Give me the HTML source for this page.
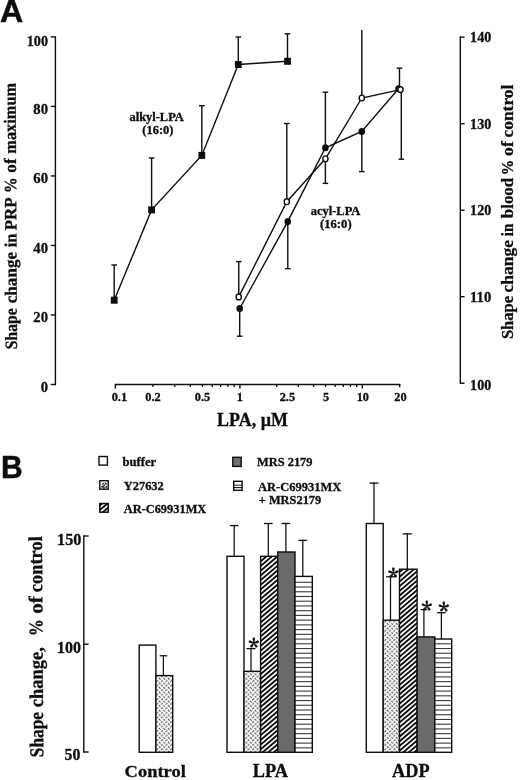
<!DOCTYPE html>
<html><head><meta charset="utf-8"><title>Figure</title>
<style>html,body{margin:0;padding:0;background:#fff;}svg{display:block;filter:grayscale(1) blur(0.25px);}</style>
</head><body>
<svg width="520" height="780" viewBox="0 0 520 780">
<rect width="520" height="780" fill="#fff"/>
<defs>
<pattern id="pd" width="4.56" height="4.56" patternUnits="userSpaceOnUse" patternTransform="translate(1.2 0.4)">
<rect width="4.56" height="4.56" fill="#fff"/>
<path d="M0.25 2.0 L2.0 0.35 M2.53 2.63 L4.28 4.28" stroke="#333" stroke-width="1.05"/>
</pattern>
</defs>
<text x="-0.1" y="22.45" font-family="'Liberation Sans',Arial,sans-serif" font-size="32.1" font-weight="bold" fill="#0d0d0d" stroke="#0d0d0d" stroke-width="0.5">A</text>
<line x1="55.40" y1="36.20" x2="55.40" y2="385.20" stroke="#0d0d0d" stroke-width="1.4" stroke-linecap="butt"/>
<line x1="50.80" y1="384.50" x2="55.40" y2="384.50" stroke="#0d0d0d" stroke-width="1.4" stroke-linecap="butt"/>
<text x="48.00" y="392.00" font-family="'Liberation Serif','Times New Roman',serif" font-size="15" font-weight="bold" text-anchor="end" fill="#0d0d0d" stroke="#0d0d0d" stroke-width="0.3" textLength="7.30" lengthAdjust="spacingAndGlyphs">0</text>
<line x1="50.80" y1="314.98" x2="55.40" y2="314.98" stroke="#0d0d0d" stroke-width="1.4" stroke-linecap="butt"/>
<text x="48.00" y="322.48" font-family="'Liberation Serif','Times New Roman',serif" font-size="15" font-weight="bold" text-anchor="end" fill="#0d0d0d" stroke="#0d0d0d" stroke-width="0.3" textLength="14.70" lengthAdjust="spacingAndGlyphs">20</text>
<line x1="50.80" y1="245.46" x2="55.40" y2="245.46" stroke="#0d0d0d" stroke-width="1.4" stroke-linecap="butt"/>
<text x="48.00" y="252.96" font-family="'Liberation Serif','Times New Roman',serif" font-size="15" font-weight="bold" text-anchor="end" fill="#0d0d0d" stroke="#0d0d0d" stroke-width="0.3" textLength="14.70" lengthAdjust="spacingAndGlyphs">40</text>
<line x1="50.80" y1="175.94" x2="55.40" y2="175.94" stroke="#0d0d0d" stroke-width="1.4" stroke-linecap="butt"/>
<text x="48.00" y="183.44" font-family="'Liberation Serif','Times New Roman',serif" font-size="15" font-weight="bold" text-anchor="end" fill="#0d0d0d" stroke="#0d0d0d" stroke-width="0.3" textLength="14.70" lengthAdjust="spacingAndGlyphs">60</text>
<line x1="50.80" y1="106.42" x2="55.40" y2="106.42" stroke="#0d0d0d" stroke-width="1.4" stroke-linecap="butt"/>
<text x="48.00" y="113.92" font-family="'Liberation Serif','Times New Roman',serif" font-size="15" font-weight="bold" text-anchor="end" fill="#0d0d0d" stroke="#0d0d0d" stroke-width="0.3" textLength="14.70" lengthAdjust="spacingAndGlyphs">80</text>
<line x1="50.80" y1="36.90" x2="55.40" y2="36.90" stroke="#0d0d0d" stroke-width="1.4" stroke-linecap="butt"/>
<text x="48.00" y="45.70" font-family="'Liberation Serif','Times New Roman',serif" font-size="15" font-weight="bold" text-anchor="end" fill="#0d0d0d" stroke="#0d0d0d" stroke-width="0.3" textLength="21.30" lengthAdjust="spacingAndGlyphs">100</text>
<line x1="460.30" y1="36.30" x2="460.30" y2="383.90" stroke="#0d0d0d" stroke-width="1.4" stroke-linecap="butt"/>
<line x1="460.30" y1="383.20" x2="464.60" y2="383.20" stroke="#0d0d0d" stroke-width="1.4" stroke-linecap="butt"/>
<text x="470.10" y="389.60" font-family="'Liberation Serif','Times New Roman',serif" font-size="15" font-weight="bold" text-anchor="start" fill="#0d0d0d" stroke="#0d0d0d" stroke-width="0.3" textLength="21.20" lengthAdjust="spacingAndGlyphs">100</text>
<line x1="460.30" y1="296.70" x2="464.60" y2="296.70" stroke="#0d0d0d" stroke-width="1.4" stroke-linecap="butt"/>
<text x="470.10" y="301.80" font-family="'Liberation Serif','Times New Roman',serif" font-size="15" font-weight="bold" text-anchor="start" fill="#0d0d0d" stroke="#0d0d0d" stroke-width="0.3" textLength="21.20" lengthAdjust="spacingAndGlyphs">110</text>
<line x1="460.30" y1="210.20" x2="464.60" y2="210.20" stroke="#0d0d0d" stroke-width="1.4" stroke-linecap="butt"/>
<text x="470.10" y="215.30" font-family="'Liberation Serif','Times New Roman',serif" font-size="15" font-weight="bold" text-anchor="start" fill="#0d0d0d" stroke="#0d0d0d" stroke-width="0.3" textLength="21.20" lengthAdjust="spacingAndGlyphs">120</text>
<line x1="460.30" y1="123.70" x2="464.60" y2="123.70" stroke="#0d0d0d" stroke-width="1.4" stroke-linecap="butt"/>
<text x="470.10" y="128.80" font-family="'Liberation Serif','Times New Roman',serif" font-size="15" font-weight="bold" text-anchor="start" fill="#0d0d0d" stroke="#0d0d0d" stroke-width="0.3" textLength="21.20" lengthAdjust="spacingAndGlyphs">130</text>
<line x1="460.30" y1="37.20" x2="464.60" y2="37.20" stroke="#0d0d0d" stroke-width="1.4" stroke-linecap="butt"/>
<text x="470.10" y="42.30" font-family="'Liberation Serif','Times New Roman',serif" font-size="15" font-weight="bold" text-anchor="start" fill="#0d0d0d" stroke="#0d0d0d" stroke-width="0.3" textLength="21.20" lengthAdjust="spacingAndGlyphs">140</text>
<line x1="114.70" y1="384.50" x2="400.40" y2="384.50" stroke="#0d0d0d" stroke-width="1.4" stroke-linecap="butt"/>
<line x1="115.40" y1="384.50" x2="115.40" y2="388.60" stroke="#0d0d0d" stroke-width="1.4" stroke-linecap="butt"/>
<line x1="239.90" y1="384.50" x2="239.90" y2="388.60" stroke="#0d0d0d" stroke-width="1.4" stroke-linecap="butt"/>
<line x1="362.30" y1="384.50" x2="362.30" y2="388.60" stroke="#0d0d0d" stroke-width="1.4" stroke-linecap="butt"/>
<line x1="399.70" y1="384.50" x2="399.70" y2="387.30" stroke="#0d0d0d" stroke-width="1.4" stroke-linecap="butt"/>
<line x1="152.88" y1="384.50" x2="152.88" y2="386.90" stroke="#0d0d0d" stroke-width="1.3" stroke-linecap="butt"/>
<line x1="174.80" y1="384.50" x2="174.80" y2="386.90" stroke="#0d0d0d" stroke-width="1.3" stroke-linecap="butt"/>
<line x1="190.36" y1="384.50" x2="190.36" y2="386.90" stroke="#0d0d0d" stroke-width="1.3" stroke-linecap="butt"/>
<line x1="202.42" y1="384.50" x2="202.42" y2="386.90" stroke="#0d0d0d" stroke-width="1.3" stroke-linecap="butt"/>
<line x1="212.28" y1="384.50" x2="212.28" y2="386.90" stroke="#0d0d0d" stroke-width="1.3" stroke-linecap="butt"/>
<line x1="220.61" y1="384.50" x2="220.61" y2="386.90" stroke="#0d0d0d" stroke-width="1.3" stroke-linecap="butt"/>
<line x1="227.83" y1="384.50" x2="227.83" y2="386.90" stroke="#0d0d0d" stroke-width="1.3" stroke-linecap="butt"/>
<line x1="234.20" y1="384.50" x2="234.20" y2="386.90" stroke="#0d0d0d" stroke-width="1.3" stroke-linecap="butt"/>
<line x1="276.75" y1="384.50" x2="276.75" y2="386.90" stroke="#0d0d0d" stroke-width="1.3" stroke-linecap="butt"/>
<line x1="298.30" y1="384.50" x2="298.30" y2="386.90" stroke="#0d0d0d" stroke-width="1.3" stroke-linecap="butt"/>
<line x1="313.59" y1="384.50" x2="313.59" y2="386.90" stroke="#0d0d0d" stroke-width="1.3" stroke-linecap="butt"/>
<line x1="325.45" y1="384.50" x2="325.45" y2="386.90" stroke="#0d0d0d" stroke-width="1.3" stroke-linecap="butt"/>
<line x1="335.15" y1="384.50" x2="335.15" y2="386.90" stroke="#0d0d0d" stroke-width="1.3" stroke-linecap="butt"/>
<line x1="343.34" y1="384.50" x2="343.34" y2="386.90" stroke="#0d0d0d" stroke-width="1.3" stroke-linecap="butt"/>
<line x1="350.44" y1="384.50" x2="350.44" y2="386.90" stroke="#0d0d0d" stroke-width="1.3" stroke-linecap="butt"/>
<line x1="356.70" y1="384.50" x2="356.70" y2="386.90" stroke="#0d0d0d" stroke-width="1.3" stroke-linecap="butt"/>
<text x="119.40" y="401.20" font-family="'Liberation Serif','Times New Roman',serif" font-size="12.3" font-weight="bold" text-anchor="middle" fill="#0d0d0d" stroke="#0d0d0d" stroke-width="0.3">0.1</text>
<text x="153.00" y="400.70" font-family="'Liberation Serif','Times New Roman',serif" font-size="12.3" font-weight="bold" text-anchor="middle" fill="#0d0d0d" stroke="#0d0d0d" stroke-width="0.3">0.2</text>
<text x="202.50" y="400.70" font-family="'Liberation Serif','Times New Roman',serif" font-size="12.3" font-weight="bold" text-anchor="middle" fill="#0d0d0d" stroke="#0d0d0d" stroke-width="0.3">0.5</text>
<text x="239.90" y="400.70" font-family="'Liberation Serif','Times New Roman',serif" font-size="12.3" font-weight="bold" text-anchor="middle" fill="#0d0d0d" stroke="#0d0d0d" stroke-width="0.3">1</text>
<text x="287.40" y="400.70" font-family="'Liberation Serif','Times New Roman',serif" font-size="12.3" font-weight="bold" text-anchor="middle" fill="#0d0d0d" stroke="#0d0d0d" stroke-width="0.3">2.5</text>
<text x="326.00" y="400.70" font-family="'Liberation Serif','Times New Roman',serif" font-size="12.3" font-weight="bold" text-anchor="middle" fill="#0d0d0d" stroke="#0d0d0d" stroke-width="0.3">5</text>
<text x="362.80" y="401.20" font-family="'Liberation Serif','Times New Roman',serif" font-size="12.3" font-weight="bold" text-anchor="middle" fill="#0d0d0d" stroke="#0d0d0d" stroke-width="0.3">10</text>
<text x="400.50" y="400.70" font-family="'Liberation Serif','Times New Roman',serif" font-size="12.3" font-weight="bold" text-anchor="middle" fill="#0d0d0d" stroke="#0d0d0d" stroke-width="0.3">20</text>
<text x="217.10" y="426.20" font-family="'Liberation Serif','Times New Roman',serif" font-size="18.6" font-weight="bold" text-anchor="start" fill="#0d0d0d" stroke="#0d0d0d" stroke-width="0.3" textLength="70.90" lengthAdjust="spacingAndGlyphs">LPA, µM</text>
<text x="17.00" y="349.20" font-family="'Liberation Serif','Times New Roman',serif" font-size="17.2" font-weight="bold" text-anchor="start" fill="#0d0d0d" stroke="#0d0d0d" stroke-width="0.3" textLength="40.90" lengthAdjust="spacingAndGlyphs" transform="rotate(-90.3 17.00 349.20)">Shape</text>
<text x="16.76" y="303.20" font-family="'Liberation Serif','Times New Roman',serif" font-size="17.2" font-weight="bold" text-anchor="start" fill="#0d0d0d" stroke="#0d0d0d" stroke-width="0.3" textLength="51.20" lengthAdjust="spacingAndGlyphs" transform="rotate(-90.3 16.76 303.20)">change</text>
<text x="16.46" y="247.30" font-family="'Liberation Serif','Times New Roman',serif" font-size="17.2" font-weight="bold" text-anchor="start" fill="#0d0d0d" stroke="#0d0d0d" stroke-width="0.3" textLength="13.70" lengthAdjust="spacingAndGlyphs" transform="rotate(-90.3 16.46 247.30)">in</text>
<text x="16.38" y="230.30" font-family="'Liberation Serif','Times New Roman',serif" font-size="17.2" font-weight="bold" text-anchor="start" fill="#0d0d0d" stroke="#0d0d0d" stroke-width="0.3" textLength="32.90" lengthAdjust="spacingAndGlyphs" transform="rotate(-90.3 16.38 230.30)">PRP</text>
<text x="16.18" y="192.90" font-family="'Liberation Serif','Times New Roman',serif" font-size="17.2" font-weight="bold" text-anchor="start" fill="#0d0d0d" stroke="#0d0d0d" stroke-width="0.3" textLength="15.70" lengthAdjust="spacingAndGlyphs" transform="rotate(-90.3 16.18 192.90)">%</text>
<text x="16.07" y="172.70" font-family="'Liberation Serif','Times New Roman',serif" font-size="17.2" font-weight="bold" text-anchor="start" fill="#0d0d0d" stroke="#0d0d0d" stroke-width="0.3" textLength="14.40" lengthAdjust="spacingAndGlyphs" transform="rotate(-90.3 16.07 172.70)">of</text>
<text x="15.97" y="153.70" font-family="'Liberation Serif','Times New Roman',serif" font-size="17.2" font-weight="bold" text-anchor="start" fill="#0d0d0d" stroke="#0d0d0d" stroke-width="0.3" textLength="70.80" lengthAdjust="spacingAndGlyphs" transform="rotate(-90.3 15.97 153.70)">maximum</text>
<text x="512.70" y="339.10" font-family="'Liberation Serif','Times New Roman',serif" font-size="17.4" font-weight="bold" text-anchor="start" fill="#0d0d0d" stroke="#0d0d0d" stroke-width="0.3" textLength="43.20" lengthAdjust="spacingAndGlyphs" transform="rotate(-90.0 512.70 339.10)">Shape</text>
<text x="512.70" y="292.40" font-family="'Liberation Serif','Times New Roman',serif" font-size="17.4" font-weight="bold" text-anchor="start" fill="#0d0d0d" stroke="#0d0d0d" stroke-width="0.3" textLength="52.30" lengthAdjust="spacingAndGlyphs" transform="rotate(-90.0 512.70 292.40)">change</text>
<text x="512.70" y="236.20" font-family="'Liberation Serif','Times New Roman',serif" font-size="17.4" font-weight="bold" text-anchor="start" fill="#0d0d0d" stroke="#0d0d0d" stroke-width="0.3" textLength="12.50" lengthAdjust="spacingAndGlyphs" transform="rotate(-90.0 512.70 236.20)">in</text>
<text x="512.70" y="218.20" font-family="'Liberation Serif','Times New Roman',serif" font-size="17.4" font-weight="bold" text-anchor="start" fill="#0d0d0d" stroke="#0d0d0d" stroke-width="0.3" textLength="40.40" lengthAdjust="spacingAndGlyphs" transform="rotate(-90.0 512.70 218.20)">blood</text>
<text x="512.70" y="175.20" font-family="'Liberation Serif','Times New Roman',serif" font-size="17.4" font-weight="bold" text-anchor="start" fill="#0d0d0d" stroke="#0d0d0d" stroke-width="0.3" textLength="15.40" lengthAdjust="spacingAndGlyphs" transform="rotate(-90.0 512.70 175.20)">%</text>
<text x="512.70" y="155.90" font-family="'Liberation Serif','Times New Roman',serif" font-size="17.4" font-weight="bold" text-anchor="start" fill="#0d0d0d" stroke="#0d0d0d" stroke-width="0.3" textLength="14.70" lengthAdjust="spacingAndGlyphs" transform="rotate(-90.0 512.70 155.90)">of</text>
<text x="512.70" y="137.40" font-family="'Liberation Serif','Times New Roman',serif" font-size="17.4" font-weight="bold" text-anchor="start" fill="#0d0d0d" stroke="#0d0d0d" stroke-width="0.3" textLength="52.70" lengthAdjust="spacingAndGlyphs" transform="rotate(-90.0 512.70 137.40)">control</text>
<text x="129.50" y="120.80" font-family="'Liberation Serif','Times New Roman',serif" font-size="11.8" font-weight="bold" text-anchor="start" fill="#0d0d0d" stroke="#0d0d0d" stroke-width="0.3" textLength="54.30" lengthAdjust="spacingAndGlyphs">alkyl-LPA</text>
<text x="142.30" y="133.80" font-family="'Liberation Serif','Times New Roman',serif" font-size="11.8" font-weight="bold" text-anchor="start" fill="#0d0d0d" stroke="#0d0d0d" stroke-width="0.3" textLength="31.20" lengthAdjust="spacingAndGlyphs">(16:0)</text>
<text x="310.70" y="214.70" font-family="'Liberation Serif','Times New Roman',serif" font-size="11.8" font-weight="bold" text-anchor="start" fill="#0d0d0d" stroke="#0d0d0d" stroke-width="0.3" textLength="49.70" lengthAdjust="spacingAndGlyphs">acyl-LPA</text>
<text x="320.00" y="228.00" font-family="'Liberation Serif','Times New Roman',serif" font-size="11.8" font-weight="bold" text-anchor="start" fill="#0d0d0d" stroke="#0d0d0d" stroke-width="0.3" textLength="31.60" lengthAdjust="spacingAndGlyphs">(16:0)</text>
<polyline fill="none" stroke="#0d0d0d" stroke-width="1.4" points="114.2,300.2 151.6,209.9 201.8,155.4 238.3,64.5 287.5,61.3"/>
<line x1="114.20" y1="300.20" x2="114.20" y2="265.00" stroke="#0d0d0d" stroke-width="1.4" stroke-linecap="butt"/>
<line x1="111.40" y1="265.00" x2="117.00" y2="265.00" stroke="#0d0d0d" stroke-width="1.4" stroke-linecap="butt"/>
<rect x="110.80" y="296.70" width="6.8" height="7" fill="#0d0d0d"/>
<line x1="151.60" y1="209.90" x2="151.60" y2="158.00" stroke="#0d0d0d" stroke-width="1.4" stroke-linecap="butt"/>
<line x1="148.80" y1="158.00" x2="154.40" y2="158.00" stroke="#0d0d0d" stroke-width="1.4" stroke-linecap="butt"/>
<rect x="148.20" y="206.40" width="6.8" height="7" fill="#0d0d0d"/>
<line x1="201.80" y1="155.40" x2="201.80" y2="105.70" stroke="#0d0d0d" stroke-width="1.4" stroke-linecap="butt"/>
<line x1="199.00" y1="105.70" x2="204.60" y2="105.70" stroke="#0d0d0d" stroke-width="1.4" stroke-linecap="butt"/>
<rect x="198.40" y="151.90" width="6.8" height="7" fill="#0d0d0d"/>
<line x1="238.30" y1="64.50" x2="238.30" y2="37.00" stroke="#0d0d0d" stroke-width="1.4" stroke-linecap="butt"/>
<line x1="235.50" y1="37.00" x2="241.10" y2="37.00" stroke="#0d0d0d" stroke-width="1.4" stroke-linecap="butt"/>
<rect x="234.90" y="61.00" width="6.8" height="7" fill="#0d0d0d"/>
<line x1="287.50" y1="61.30" x2="287.50" y2="33.80" stroke="#0d0d0d" stroke-width="1.4" stroke-linecap="butt"/>
<line x1="284.70" y1="33.80" x2="290.30" y2="33.80" stroke="#0d0d0d" stroke-width="1.4" stroke-linecap="butt"/>
<rect x="284.10" y="57.80" width="6.8" height="7" fill="#0d0d0d"/>
<polyline fill="none" stroke="#0d0d0d" stroke-width="1.4" points="239.7,308.5 287.8,221.4 325.4,147.8 361.8,131.5 398.5,88.8"/>
<polyline fill="none" stroke="#0d0d0d" stroke-width="1.4" points="238.75,296.9 286.8,201.7 325.4,158.8 361.8,98.0 400.5,89.6"/>
<line x1="239.70" y1="308.50" x2="239.70" y2="336.20" stroke="#0d0d0d" stroke-width="1.4" stroke-linecap="butt"/>
<line x1="236.90" y1="336.20" x2="242.50" y2="336.20" stroke="#0d0d0d" stroke-width="1.4" stroke-linecap="butt"/>
<line x1="287.80" y1="221.40" x2="287.80" y2="268.70" stroke="#0d0d0d" stroke-width="1.4" stroke-linecap="butt"/>
<line x1="285.00" y1="268.70" x2="290.60" y2="268.70" stroke="#0d0d0d" stroke-width="1.4" stroke-linecap="butt"/>
<line x1="325.40" y1="147.80" x2="325.40" y2="92.20" stroke="#0d0d0d" stroke-width="1.4" stroke-linecap="butt"/>
<line x1="322.60" y1="92.20" x2="328.20" y2="92.20" stroke="#0d0d0d" stroke-width="1.4" stroke-linecap="butt"/>
<line x1="361.80" y1="131.50" x2="361.80" y2="171.60" stroke="#0d0d0d" stroke-width="1.4" stroke-linecap="butt"/>
<line x1="359.00" y1="171.60" x2="364.60" y2="171.60" stroke="#0d0d0d" stroke-width="1.4" stroke-linecap="butt"/>
<line x1="399.50" y1="88.80" x2="399.50" y2="68.20" stroke="#0d0d0d" stroke-width="1.4" stroke-linecap="butt"/>
<line x1="396.70" y1="68.20" x2="402.30" y2="68.20" stroke="#0d0d0d" stroke-width="1.4" stroke-linecap="butt"/>
<line x1="238.75" y1="296.90" x2="238.75" y2="261.60" stroke="#0d0d0d" stroke-width="1.4" stroke-linecap="butt"/>
<line x1="235.95" y1="261.60" x2="241.55" y2="261.60" stroke="#0d0d0d" stroke-width="1.4" stroke-linecap="butt"/>
<line x1="286.80" y1="201.70" x2="286.80" y2="123.50" stroke="#0d0d0d" stroke-width="1.4" stroke-linecap="butt"/>
<line x1="284.00" y1="123.50" x2="289.60" y2="123.50" stroke="#0d0d0d" stroke-width="1.4" stroke-linecap="butt"/>
<line x1="325.40" y1="158.80" x2="325.40" y2="183.40" stroke="#0d0d0d" stroke-width="1.4" stroke-linecap="butt"/>
<line x1="322.60" y1="183.40" x2="328.20" y2="183.40" stroke="#0d0d0d" stroke-width="1.4" stroke-linecap="butt"/>
<line x1="361.80" y1="98.00" x2="361.80" y2="30.00" stroke="#0d0d0d" stroke-width="1.4" stroke-linecap="butt"/>
<line x1="401.30" y1="89.60" x2="401.30" y2="159.20" stroke="#0d0d0d" stroke-width="1.4" stroke-linecap="butt"/>
<line x1="398.50" y1="159.20" x2="404.10" y2="159.20" stroke="#0d0d0d" stroke-width="1.4" stroke-linecap="butt"/>
<ellipse cx="239.7" cy="308.5" rx="3.3" ry="3.5" fill="#0d0d0d"/>
<ellipse cx="287.8" cy="221.4" rx="3.3" ry="3.5" fill="#0d0d0d"/>
<ellipse cx="325.4" cy="147.8" rx="3.3" ry="3.5" fill="#0d0d0d"/>
<ellipse cx="361.8" cy="131.5" rx="3.3" ry="3.5" fill="#0d0d0d"/>
<ellipse cx="398.5" cy="88.8" rx="3.3" ry="3.5" fill="#0d0d0d"/>
<ellipse cx="238.75" cy="296.9" rx="2.6" ry="2.9" fill="#fff" stroke="#0d0d0d" stroke-width="1.4"/>
<ellipse cx="286.8" cy="201.7" rx="2.6" ry="2.9" fill="#fff" stroke="#0d0d0d" stroke-width="1.4"/>
<ellipse cx="325.4" cy="158.8" rx="2.6" ry="2.9" fill="#fff" stroke="#0d0d0d" stroke-width="1.4"/>
<ellipse cx="361.8" cy="98.0" rx="2.6" ry="2.9" fill="#fff" stroke="#0d0d0d" stroke-width="1.4"/>
<ellipse cx="400.5" cy="89.6" rx="2.6" ry="2.9" fill="#fff" stroke="#0d0d0d" stroke-width="1.4"/>
<text x="0.9" y="477.7" font-family="'Liberation Sans',Arial,sans-serif" font-size="31.2" font-weight="bold" fill="#0d0d0d" stroke="#0d0d0d" stroke-width="0.5" textLength="21.7" lengthAdjust="spacingAndGlyphs">B</text>
<rect x="99.00" y="456.50" width="8.40" height="8.60" fill="#fff" stroke="#0d0d0d" stroke-width="1.4"/>
<rect x="99.80" y="480.70" width="8.40" height="8.50" fill="#fff" stroke="#0d0d0d" stroke-width="1.4"/>
<path d="M102.2 484.6 L103.6 483.0 M105.0 482.8 L106.6 484.4 M103.2 486.4 L105.0 484.8 M101.6 486.0 L102.8 487.6 M105.6 487.8 L107.0 486.2 M103.4 488.4 L104.6 487.4" stroke="#1a1a1a" stroke-width="1.4" fill="none"/>
<rect x="99.1" y="502.8" width="9.8" height="10.1" fill="#fff"/>
<clipPath id="c1"><rect x="99.80" y="503.50" width="8.40" height="8.70"/></clipPath>
<g clip-path="url(#c1)" stroke="#0d0d0d" stroke-width="1.85">
<line x1="98.80" y1="506.19" x2="109.20" y2="497.35"/>
<line x1="98.80" y1="510.88" x2="109.20" y2="502.05"/>
<line x1="98.80" y1="515.59" x2="109.20" y2="506.75"/>
<line x1="98.80" y1="520.28" x2="109.20" y2="511.44"/>
</g>
<rect x="99.8" y="503.5" width="8.4" height="8.7" fill="none" stroke="#0d0d0d" stroke-width="1.5"/>
<rect x="232.80" y="457.30" width="8.40" height="9.10" fill="#707070" stroke="#0d0d0d" stroke-width="1.4"/>
<rect x="233.70" y="481.30" width="8.40" height="9.00" fill="#fff" stroke="#0d0d0d" stroke-width="1.4"/>
<line x1="234.00" y1="485.20" x2="242.00" y2="485.20" stroke="#0d0d0d" stroke-width="0.9" stroke-linecap="butt"/>
<line x1="234.00" y1="487.60" x2="242.00" y2="487.60" stroke="#0d0d0d" stroke-width="1.1" stroke-linecap="butt"/>
<text x="122.50" y="465.50" font-family="'Liberation Serif','Times New Roman',serif" font-size="12.3" font-weight="bold" text-anchor="start" fill="#0d0d0d" stroke="#0d0d0d" stroke-width="0.3" textLength="33.75" lengthAdjust="spacingAndGlyphs">buffer</text>
<text x="123.75" y="490.00" font-family="'Liberation Serif','Times New Roman',serif" font-size="12.3" font-weight="bold" text-anchor="start" fill="#0d0d0d" stroke="#0d0d0d" stroke-width="0.3" textLength="40.00" lengthAdjust="spacingAndGlyphs">Y27632</text>
<text x="123.75" y="513.25" font-family="'Liberation Serif','Times New Roman',serif" font-size="12.3" font-weight="bold" text-anchor="start" fill="#0d0d0d" stroke="#0d0d0d" stroke-width="0.3" textLength="82.50" lengthAdjust="spacingAndGlyphs">AR-C69931MX</text>
<text x="257.00" y="466.25" font-family="'Liberation Serif','Times New Roman',serif" font-size="12.3" font-weight="bold" text-anchor="start" fill="#0d0d0d" stroke="#0d0d0d" stroke-width="0.3" textLength="55.50" lengthAdjust="spacingAndGlyphs">MRS 2179</text>
<text x="258.00" y="490.50" font-family="'Liberation Serif','Times New Roman',serif" font-size="12.3" font-weight="bold" text-anchor="start" fill="#0d0d0d" stroke="#0d0d0d" stroke-width="0.3" textLength="83.25" lengthAdjust="spacingAndGlyphs">AR-C69931MX</text>
<text x="258.75" y="504.10" font-family="'Liberation Serif','Times New Roman',serif" font-size="12.3" font-weight="bold" text-anchor="start" fill="#0d0d0d" stroke="#0d0d0d" stroke-width="0.3" textLength="62.50" lengthAdjust="spacingAndGlyphs">+ MRS2179</text>
<line x1="83.80" y1="535.30" x2="83.80" y2="752.70" stroke="#0d0d0d" stroke-width="1.4" stroke-linecap="butt"/>
<line x1="83.80" y1="536.00" x2="88.60" y2="536.00" stroke="#0d0d0d" stroke-width="1.4" stroke-linecap="butt"/>
<line x1="83.80" y1="644.20" x2="88.60" y2="644.20" stroke="#0d0d0d" stroke-width="1.4" stroke-linecap="butt"/>
<line x1="83.80" y1="752.00" x2="88.60" y2="752.00" stroke="#0d0d0d" stroke-width="1.4" stroke-linecap="butt"/>
<text x="81.40" y="544.50" font-family="'Liberation Serif','Times New Roman',serif" font-size="16.6" font-weight="bold" text-anchor="end" fill="#0d0d0d" stroke="#0d0d0d" stroke-width="0.3" textLength="24.30" lengthAdjust="spacingAndGlyphs">150</text>
<text x="81.00" y="653.30" font-family="'Liberation Serif','Times New Roman',serif" font-size="16.6" font-weight="bold" text-anchor="end" fill="#0d0d0d" stroke="#0d0d0d" stroke-width="0.3" textLength="24.00" lengthAdjust="spacingAndGlyphs">100</text>
<text x="80.40" y="760.40" font-family="'Liberation Serif','Times New Roman',serif" font-size="16.6" font-weight="bold" text-anchor="end" fill="#0d0d0d" stroke="#0d0d0d" stroke-width="0.3" textLength="15.80" lengthAdjust="spacingAndGlyphs">50</text>
<text x="43.30" y="757.20" font-family="'Liberation Serif','Times New Roman',serif" font-size="19.5" font-weight="bold" text-anchor="start" fill="#0d0d0d" stroke="#0d0d0d" stroke-width="0.3" textLength="45.20" lengthAdjust="spacingAndGlyphs" transform="rotate(-90.35 43.30 757.20)">Shape</text>
<text x="42.99" y="707.20" font-family="'Liberation Serif','Times New Roman',serif" font-size="19.5" font-weight="bold" text-anchor="start" fill="#0d0d0d" stroke="#0d0d0d" stroke-width="0.3" textLength="60.10" lengthAdjust="spacingAndGlyphs" transform="rotate(-90.35 42.99 707.20)">change,</text>
<text x="42.56" y="636.10" font-family="'Liberation Serif','Times New Roman',serif" font-size="19.5" font-weight="bold" text-anchor="start" fill="#0d0d0d" stroke="#0d0d0d" stroke-width="0.3" textLength="16.80" lengthAdjust="spacingAndGlyphs" transform="rotate(-90.35 42.56 636.10)">%</text>
<text x="42.42" y="613.80" font-family="'Liberation Serif','Times New Roman',serif" font-size="19.5" font-weight="bold" text-anchor="start" fill="#0d0d0d" stroke="#0d0d0d" stroke-width="0.3" textLength="17.60" lengthAdjust="spacingAndGlyphs" transform="rotate(-90.35 42.42 613.80)">of</text>
<text x="42.29" y="592.20" font-family="'Liberation Serif','Times New Roman',serif" font-size="19.5" font-weight="bold" text-anchor="start" fill="#0d0d0d" stroke="#0d0d0d" stroke-width="0.3" textLength="56.00" lengthAdjust="spacingAndGlyphs" transform="rotate(-90.35 42.29 592.20)">control</text>
<rect x="139.20" y="645.10" width="16.70" height="107.20" fill="#fff"/>
<rect x="139.20" y="645.10" width="16.70" height="107.20" fill="none" stroke="#0d0d0d" stroke-width="1.4"/>
<rect x="155.90" y="675.60" width="16.80" height="76.70" fill="url(#pd)"/>
<rect x="155.90" y="675.60" width="16.80" height="76.70" fill="none" stroke="#0d0d0d" stroke-width="1.4"/>
<line x1="163.40" y1="675.60" x2="163.40" y2="655.20" stroke="#0d0d0d" stroke-width="1.25" stroke-linecap="butt"/>
<line x1="159.70" y1="655.80" x2="167.10" y2="655.80" stroke="#0d0d0d" stroke-width="1.3" stroke-linecap="butt"/>
<line x1="234.20" y1="556.30" x2="234.20" y2="525.00" stroke="#0d0d0d" stroke-width="1.25" stroke-linecap="butt"/>
<line x1="229.90" y1="525.60" x2="238.50" y2="525.60" stroke="#0d0d0d" stroke-width="1.3" stroke-linecap="butt"/>
<line x1="268.30" y1="556.30" x2="268.30" y2="522.90" stroke="#0d0d0d" stroke-width="1.25" stroke-linecap="butt"/>
<line x1="264.00" y1="523.50" x2="272.60" y2="523.50" stroke="#0d0d0d" stroke-width="1.3" stroke-linecap="butt"/>
<line x1="285.90" y1="552.00" x2="285.90" y2="522.90" stroke="#0d0d0d" stroke-width="1.25" stroke-linecap="butt"/>
<line x1="281.60" y1="523.50" x2="290.20" y2="523.50" stroke="#0d0d0d" stroke-width="1.3" stroke-linecap="butt"/>
<line x1="302.80" y1="576.40" x2="302.80" y2="539.80" stroke="#0d0d0d" stroke-width="1.25" stroke-linecap="butt"/>
<line x1="298.50" y1="540.40" x2="307.10" y2="540.40" stroke="#0d0d0d" stroke-width="1.3" stroke-linecap="butt"/>
<line x1="251.00" y1="671.30" x2="251.00" y2="648.00" stroke="#0d0d0d" stroke-width="1.25" stroke-linecap="butt"/>
<line x1="246.50" y1="648.60" x2="255.50" y2="648.60" stroke="#0d0d0d" stroke-width="1.3" stroke-linecap="butt"/>
<rect x="227.00" y="556.30" width="17.00" height="196.00" fill="#fff"/>
<rect x="227.00" y="556.30" width="17.00" height="196.00" fill="none" stroke="#0d0d0d" stroke-width="1.4"/>
<rect x="244.00" y="671.30" width="16.60" height="81.00" fill="url(#pd)"/>
<rect x="244.00" y="671.30" width="16.60" height="81.00" fill="none" stroke="#0d0d0d" stroke-width="1.4"/>
<rect x="260.60" y="556.30" width="17.10" height="196.00" fill="#fff"/>
<clipPath id="c2"><rect x="260.60" y="556.30" width="17.10" height="196.00"/></clipPath>
<g clip-path="url(#c2)" stroke="#0d0d0d" stroke-width="1.85">
<line x1="259.60" y1="557.50" x2="278.70" y2="541.27"/>
<line x1="259.60" y1="562.20" x2="278.70" y2="545.97"/>
<line x1="259.60" y1="566.90" x2="278.70" y2="550.67"/>
<line x1="259.60" y1="571.61" x2="278.70" y2="555.37"/>
<line x1="259.60" y1="576.31" x2="278.70" y2="560.07"/>
<line x1="259.60" y1="581.00" x2="278.70" y2="564.77"/>
<line x1="259.60" y1="585.70" x2="278.70" y2="569.47"/>
<line x1="259.60" y1="590.40" x2="278.70" y2="574.17"/>
<line x1="259.60" y1="595.11" x2="278.70" y2="578.87"/>
<line x1="259.60" y1="599.81" x2="278.70" y2="583.57"/>
<line x1="259.60" y1="604.50" x2="278.70" y2="588.27"/>
<line x1="259.60" y1="609.20" x2="278.70" y2="592.97"/>
<line x1="259.60" y1="613.90" x2="278.70" y2="597.67"/>
<line x1="259.60" y1="618.61" x2="278.70" y2="602.37"/>
<line x1="259.60" y1="623.31" x2="278.70" y2="607.07"/>
<line x1="259.60" y1="628.00" x2="278.70" y2="611.77"/>
<line x1="259.60" y1="632.70" x2="278.70" y2="616.47"/>
<line x1="259.60" y1="637.40" x2="278.70" y2="621.17"/>
<line x1="259.60" y1="642.11" x2="278.70" y2="625.87"/>
<line x1="259.60" y1="646.81" x2="278.70" y2="630.57"/>
<line x1="259.60" y1="651.50" x2="278.70" y2="635.27"/>
<line x1="259.60" y1="656.20" x2="278.70" y2="639.97"/>
<line x1="259.60" y1="660.90" x2="278.70" y2="644.67"/>
<line x1="259.60" y1="665.61" x2="278.70" y2="649.37"/>
<line x1="259.60" y1="670.31" x2="278.70" y2="654.07"/>
<line x1="259.60" y1="675.00" x2="278.70" y2="658.77"/>
<line x1="259.60" y1="679.70" x2="278.70" y2="663.47"/>
<line x1="259.60" y1="684.40" x2="278.70" y2="668.17"/>
<line x1="259.60" y1="689.11" x2="278.70" y2="672.87"/>
<line x1="259.60" y1="693.81" x2="278.70" y2="677.57"/>
<line x1="259.60" y1="698.50" x2="278.70" y2="682.27"/>
<line x1="259.60" y1="703.20" x2="278.70" y2="686.97"/>
<line x1="259.60" y1="707.90" x2="278.70" y2="691.67"/>
<line x1="259.60" y1="712.61" x2="278.70" y2="696.37"/>
<line x1="259.60" y1="717.31" x2="278.70" y2="701.07"/>
<line x1="259.60" y1="722.00" x2="278.70" y2="705.77"/>
<line x1="259.60" y1="726.70" x2="278.70" y2="710.47"/>
<line x1="259.60" y1="731.40" x2="278.70" y2="715.17"/>
<line x1="259.60" y1="736.11" x2="278.70" y2="719.87"/>
<line x1="259.60" y1="740.81" x2="278.70" y2="724.57"/>
<line x1="259.60" y1="745.50" x2="278.70" y2="729.27"/>
<line x1="259.60" y1="750.20" x2="278.70" y2="733.97"/>
<line x1="259.60" y1="754.90" x2="278.70" y2="738.67"/>
<line x1="259.60" y1="759.61" x2="278.70" y2="743.37"/>
<line x1="259.60" y1="764.31" x2="278.70" y2="748.07"/>
<line x1="259.60" y1="769.00" x2="278.70" y2="752.77"/>
</g>
<rect x="260.60" y="556.30" width="17.10" height="196.00" fill="none" stroke="#0d0d0d" stroke-width="1.4"/>
<rect x="277.70" y="552.00" width="17.30" height="200.30" fill="#6a6a6a"/>
<rect x="277.70" y="552.00" width="17.30" height="200.30" fill="none" stroke="#0d0d0d" stroke-width="1.4"/>
<rect x="295.00" y="576.40" width="17.30" height="175.90" fill="#fff"/>
<g stroke="#3a3a3a" stroke-width="1.1">
<line x1="295.00" y1="582.30" x2="312.30" y2="582.30"/>
<line x1="295.00" y1="587.03" x2="312.30" y2="587.03"/>
<line x1="295.00" y1="591.76" x2="312.30" y2="591.76"/>
<line x1="295.00" y1="596.49" x2="312.30" y2="596.49"/>
<line x1="295.00" y1="601.22" x2="312.30" y2="601.22"/>
<line x1="295.00" y1="605.95" x2="312.30" y2="605.95"/>
<line x1="295.00" y1="610.68" x2="312.30" y2="610.68"/>
<line x1="295.00" y1="615.41" x2="312.30" y2="615.41"/>
<line x1="295.00" y1="620.14" x2="312.30" y2="620.14"/>
<line x1="295.00" y1="624.87" x2="312.30" y2="624.87"/>
<line x1="295.00" y1="629.60" x2="312.30" y2="629.60"/>
<line x1="295.00" y1="634.33" x2="312.30" y2="634.33"/>
<line x1="295.00" y1="639.06" x2="312.30" y2="639.06"/>
<line x1="295.00" y1="643.79" x2="312.30" y2="643.79"/>
<line x1="295.00" y1="648.52" x2="312.30" y2="648.52"/>
<line x1="295.00" y1="653.25" x2="312.30" y2="653.25"/>
<line x1="295.00" y1="657.98" x2="312.30" y2="657.98"/>
<line x1="295.00" y1="662.71" x2="312.30" y2="662.71"/>
<line x1="295.00" y1="667.44" x2="312.30" y2="667.44"/>
<line x1="295.00" y1="672.17" x2="312.30" y2="672.17"/>
<line x1="295.00" y1="676.90" x2="312.30" y2="676.90"/>
<line x1="295.00" y1="681.63" x2="312.30" y2="681.63"/>
<line x1="295.00" y1="686.36" x2="312.30" y2="686.36"/>
<line x1="295.00" y1="691.09" x2="312.30" y2="691.09"/>
<line x1="295.00" y1="695.82" x2="312.30" y2="695.82"/>
<line x1="295.00" y1="700.55" x2="312.30" y2="700.55"/>
<line x1="295.00" y1="705.28" x2="312.30" y2="705.28"/>
<line x1="295.00" y1="710.01" x2="312.30" y2="710.01"/>
<line x1="295.00" y1="714.74" x2="312.30" y2="714.74"/>
<line x1="295.00" y1="719.47" x2="312.30" y2="719.47"/>
<line x1="295.00" y1="724.20" x2="312.30" y2="724.20"/>
<line x1="295.00" y1="728.93" x2="312.30" y2="728.93"/>
<line x1="295.00" y1="733.66" x2="312.30" y2="733.66"/>
<line x1="295.00" y1="738.39" x2="312.30" y2="738.39"/>
<line x1="295.00" y1="743.12" x2="312.30" y2="743.12"/>
<line x1="295.00" y1="747.85" x2="312.30" y2="747.85"/>
</g>
<rect x="295.00" y="576.40" width="17.30" height="175.90" fill="none" stroke="#0d0d0d" stroke-width="1.4"/>
<text x="248.50" y="655.68" font-family="'Noto Serif CJK SC','Liberation Sans',serif" font-size="22.0" font-weight="bold" fill="#0d0d0d" stroke="#0d0d0d" stroke-width="0.45">*</text>
<line x1="374.00" y1="523.50" x2="374.00" y2="482.50" stroke="#0d0d0d" stroke-width="1.25" stroke-linecap="butt"/>
<line x1="369.50" y1="483.10" x2="378.50" y2="483.10" stroke="#0d0d0d" stroke-width="1.3" stroke-linecap="butt"/>
<line x1="390.50" y1="620.20" x2="390.50" y2="576.20" stroke="#0d0d0d" stroke-width="1.25" stroke-linecap="butt"/>
<line x1="386.10" y1="576.80" x2="394.90" y2="576.80" stroke="#0d0d0d" stroke-width="1.3" stroke-linecap="butt"/>
<line x1="407.30" y1="569.20" x2="407.30" y2="533.30" stroke="#0d0d0d" stroke-width="1.25" stroke-linecap="butt"/>
<line x1="402.80" y1="533.90" x2="411.80" y2="533.90" stroke="#0d0d0d" stroke-width="1.3" stroke-linecap="butt"/>
<line x1="423.90" y1="636.90" x2="423.90" y2="609.00" stroke="#0d0d0d" stroke-width="1.25" stroke-linecap="butt"/>
<line x1="420.50" y1="609.60" x2="427.30" y2="609.60" stroke="#0d0d0d" stroke-width="1.3" stroke-linecap="butt"/>
<line x1="441.40" y1="639.00" x2="441.40" y2="612.10" stroke="#0d0d0d" stroke-width="1.25" stroke-linecap="butt"/>
<line x1="437.10" y1="612.70" x2="445.70" y2="612.70" stroke="#0d0d0d" stroke-width="1.3" stroke-linecap="butt"/>
<rect x="366.30" y="523.50" width="16.90" height="228.80" fill="#fff"/>
<rect x="366.30" y="523.50" width="16.90" height="228.80" fill="none" stroke="#0d0d0d" stroke-width="1.4"/>
<rect x="383.20" y="620.20" width="16.30" height="132.10" fill="url(#pd)"/>
<rect x="383.20" y="620.20" width="16.30" height="132.10" fill="none" stroke="#0d0d0d" stroke-width="1.4"/>
<rect x="399.50" y="569.20" width="17.60" height="183.10" fill="#fff"/>
<clipPath id="c3"><rect x="399.50" y="569.20" width="17.60" height="183.10"/></clipPath>
<g clip-path="url(#c3)" stroke="#0d0d0d" stroke-width="1.85">
<line x1="398.50" y1="568.28" x2="418.10" y2="551.62"/>
<line x1="398.50" y1="572.98" x2="418.10" y2="556.32"/>
<line x1="398.50" y1="577.68" x2="418.10" y2="561.02"/>
<line x1="398.50" y1="582.38" x2="418.10" y2="565.73"/>
<line x1="398.50" y1="587.08" x2="418.10" y2="570.42"/>
<line x1="398.50" y1="591.78" x2="418.10" y2="575.12"/>
<line x1="398.50" y1="596.48" x2="418.10" y2="579.82"/>
<line x1="398.50" y1="601.18" x2="418.10" y2="584.52"/>
<line x1="398.50" y1="605.88" x2="418.10" y2="589.23"/>
<line x1="398.50" y1="610.58" x2="418.10" y2="593.92"/>
<line x1="398.50" y1="615.28" x2="418.10" y2="598.62"/>
<line x1="398.50" y1="619.98" x2="418.10" y2="603.32"/>
<line x1="398.50" y1="624.68" x2="418.10" y2="608.02"/>
<line x1="398.50" y1="629.38" x2="418.10" y2="612.73"/>
<line x1="398.50" y1="634.08" x2="418.10" y2="617.42"/>
<line x1="398.50" y1="638.78" x2="418.10" y2="622.12"/>
<line x1="398.50" y1="643.48" x2="418.10" y2="626.82"/>
<line x1="398.50" y1="648.18" x2="418.10" y2="631.52"/>
<line x1="398.50" y1="652.88" x2="418.10" y2="636.23"/>
<line x1="398.50" y1="657.58" x2="418.10" y2="640.92"/>
<line x1="398.50" y1="662.28" x2="418.10" y2="645.62"/>
<line x1="398.50" y1="666.98" x2="418.10" y2="650.32"/>
<line x1="398.50" y1="671.68" x2="418.10" y2="655.02"/>
<line x1="398.50" y1="676.38" x2="418.10" y2="659.73"/>
<line x1="398.50" y1="681.08" x2="418.10" y2="664.42"/>
<line x1="398.50" y1="685.78" x2="418.10" y2="669.12"/>
<line x1="398.50" y1="690.49" x2="418.10" y2="673.83"/>
<line x1="398.50" y1="695.18" x2="418.10" y2="678.52"/>
<line x1="398.50" y1="699.88" x2="418.10" y2="683.23"/>
<line x1="398.50" y1="704.58" x2="418.10" y2="687.92"/>
<line x1="398.50" y1="709.28" x2="418.10" y2="692.62"/>
<line x1="398.50" y1="713.99" x2="418.10" y2="697.33"/>
<line x1="398.50" y1="718.68" x2="418.10" y2="702.02"/>
<line x1="398.50" y1="723.38" x2="418.10" y2="706.73"/>
<line x1="398.50" y1="728.08" x2="418.10" y2="711.42"/>
<line x1="398.50" y1="732.78" x2="418.10" y2="716.12"/>
<line x1="398.50" y1="737.49" x2="418.10" y2="720.83"/>
<line x1="398.50" y1="742.18" x2="418.10" y2="725.52"/>
<line x1="398.50" y1="746.88" x2="418.10" y2="730.23"/>
<line x1="398.50" y1="751.58" x2="418.10" y2="734.92"/>
<line x1="398.50" y1="756.28" x2="418.10" y2="739.62"/>
<line x1="398.50" y1="760.99" x2="418.10" y2="744.33"/>
<line x1="398.50" y1="765.68" x2="418.10" y2="749.02"/>
<line x1="398.50" y1="770.38" x2="418.10" y2="753.73"/>
</g>
<rect x="399.50" y="569.20" width="17.60" height="183.10" fill="none" stroke="#0d0d0d" stroke-width="1.4"/>
<rect x="417.10" y="636.90" width="17.70" height="115.40" fill="#6a6a6a"/>
<rect x="417.10" y="636.90" width="17.70" height="115.40" fill="none" stroke="#0d0d0d" stroke-width="1.4"/>
<rect x="434.80" y="639.00" width="16.90" height="113.30" fill="#fff"/>
<g stroke="#3a3a3a" stroke-width="1.1">
<line x1="434.80" y1="643.79" x2="451.70" y2="643.79"/>
<line x1="434.80" y1="648.52" x2="451.70" y2="648.52"/>
<line x1="434.80" y1="653.25" x2="451.70" y2="653.25"/>
<line x1="434.80" y1="657.98" x2="451.70" y2="657.98"/>
<line x1="434.80" y1="662.71" x2="451.70" y2="662.71"/>
<line x1="434.80" y1="667.44" x2="451.70" y2="667.44"/>
<line x1="434.80" y1="672.17" x2="451.70" y2="672.17"/>
<line x1="434.80" y1="676.90" x2="451.70" y2="676.90"/>
<line x1="434.80" y1="681.63" x2="451.70" y2="681.63"/>
<line x1="434.80" y1="686.36" x2="451.70" y2="686.36"/>
<line x1="434.80" y1="691.09" x2="451.70" y2="691.09"/>
<line x1="434.80" y1="695.82" x2="451.70" y2="695.82"/>
<line x1="434.80" y1="700.55" x2="451.70" y2="700.55"/>
<line x1="434.80" y1="705.28" x2="451.70" y2="705.28"/>
<line x1="434.80" y1="710.01" x2="451.70" y2="710.01"/>
<line x1="434.80" y1="714.74" x2="451.70" y2="714.74"/>
<line x1="434.80" y1="719.47" x2="451.70" y2="719.47"/>
<line x1="434.80" y1="724.20" x2="451.70" y2="724.20"/>
<line x1="434.80" y1="728.93" x2="451.70" y2="728.93"/>
<line x1="434.80" y1="733.66" x2="451.70" y2="733.66"/>
<line x1="434.80" y1="738.39" x2="451.70" y2="738.39"/>
<line x1="434.80" y1="743.12" x2="451.70" y2="743.12"/>
<line x1="434.80" y1="747.85" x2="451.70" y2="747.85"/>
</g>
<rect x="434.80" y="639.00" width="16.90" height="113.30" fill="none" stroke="#0d0d0d" stroke-width="1.4"/>
<text x="388.10" y="585.58" font-family="'Noto Serif CJK SC','Liberation Sans',serif" font-size="22.0" font-weight="bold" fill="#0d0d0d" stroke="#0d0d0d" stroke-width="0.45">*</text>
<text x="421.60" y="618.68" font-family="'Noto Serif CJK SC','Liberation Sans',serif" font-size="22.0" font-weight="bold" fill="#0d0d0d" stroke="#0d0d0d" stroke-width="0.45">*</text>
<text x="438.50" y="620.48" font-family="'Noto Serif CJK SC','Liberation Sans',serif" font-size="22.0" font-weight="bold" fill="#0d0d0d" stroke="#0d0d0d" stroke-width="0.45">*</text>
<text x="124.60" y="777.20" font-family="'Liberation Serif','Times New Roman',serif" font-size="17.6" font-weight="bold" text-anchor="start" fill="#0d0d0d" stroke="#0d0d0d" stroke-width="0.3" textLength="61.20" lengthAdjust="spacingAndGlyphs">Control</text>
<text x="252.80" y="777.30" font-family="'Liberation Serif','Times New Roman',serif" font-size="17.8" font-weight="bold" text-anchor="start" fill="#0d0d0d" stroke="#0d0d0d" stroke-width="0.3" textLength="35.20" lengthAdjust="spacingAndGlyphs">LPA</text>
<text x="392.10" y="777.30" font-family="'Liberation Serif','Times New Roman',serif" font-size="17.8" font-weight="bold" text-anchor="start" fill="#0d0d0d" stroke="#0d0d0d" stroke-width="0.3" textLength="37.40" lengthAdjust="spacingAndGlyphs">ADP</text>
</svg>
</body></html>
